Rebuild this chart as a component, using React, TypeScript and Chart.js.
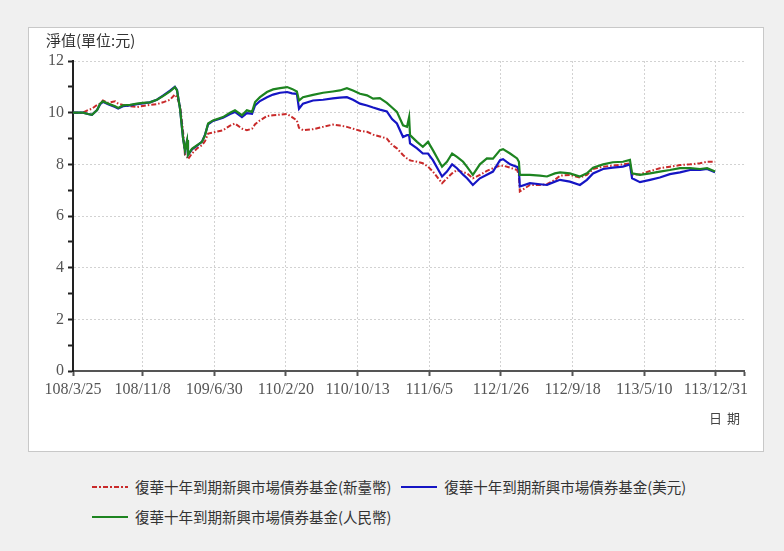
import React, { useEffect, useRef } from "react";
import { Chart, registerables } from "chart.js";

Chart.register(...registerables);

// ---- data ----
const tickLabels = [
  "108/3/25", "108/11/8", "109/6/30", "110/2/20", "110/10/13",
  "111/6/5", "112/1/26", "112/9/18", "113/5/10", "113/12/31",
];
const axisEndDay = 2200;

// sample days (days since 108/3/25)
const sampleDay = [
  0, 33, 49, 62, 79, 89, 98, 115, 138, 148, 164, 187, 210, 229, 252, 275, 295, 318, 334, 341,
  351, 361, 367, 374, 377, 390, 407, 423, 433, 443, 459, 492, 515, 531, 554, 570, 587, 597, 613, 636,
  656, 679, 702, 718, 734, 741, 754, 787, 820, 852, 875, 898, 918, 941, 964, 984, 1006, 1029, 1046, 1062,
  1082, 1095, 1102, 1105, 1128, 1147, 1164, 1180, 1210, 1226, 1243, 1259, 1279, 1292, 1311, 1334, 1357, 1377, 1400, 1410,
  1433, 1456, 1462, 1465, 1498, 1531, 1554, 1580, 1597, 1629, 1662, 1685, 1705, 1738, 1770, 1803, 1826, 1833, 1859, 1892,
  1924, 1957, 1990, 2023, 2056, 2079, 2105,
];

const navTWD = [
  10.0, 10.0, 10.1, 10.15, 10.3, 10.35, 10.47, 10.38, 10.44, 10.35, 10.3, 10.25, 10.22, 10.26, 10.3, 10.33, 10.4, 10.5, 10.7, 10.6,
  10.28, 9.26, 8.38, 8.3, 8.2, 8.42, 8.62, 8.74, 8.9, 9.19, 9.23, 9.32, 9.5, 9.58, 9.38, 9.32, 9.38, 9.55, 9.7, 9.87,
  9.9, 9.92, 9.95, 9.83, 9.7, 9.41, 9.32, 9.36, 9.45, 9.54, 9.5, 9.45, 9.38, 9.3, 9.26, 9.15, 9.08, 9.0, 8.75, 8.62,
  8.36, 8.23, 8.2, 8.15, 8.1, 8.04, 7.91, 7.72, 7.27, 7.46, 7.65, 7.78, 7.7, 7.65, 7.46, 7.59, 7.75, 7.85, 7.95, 7.95,
  7.87, 7.78, 7.59, 6.95, 7.2, 7.2, 7.23, 7.4, 7.56, 7.59, 7.49, 7.59, 7.82, 7.91, 7.95, 8.0, 8.04, 7.6, 7.62, 7.74,
  7.85, 7.91, 7.97, 8.0, 8.04, 8.1, 8.1,
];

const navUSD = [
  10.0, 10.0, 9.95, 9.92, 10.1, 10.33, 10.42, 10.33, 10.22, 10.16, 10.25, 10.28, 10.33, 10.36, 10.4, 10.5, 10.66, 10.85, 11.0, 10.88,
  10.15, 9.0, 8.55, 8.9, 8.36, 8.58, 8.72, 8.88, 9.15, 9.55, 9.68, 9.8, 9.95, 10.03, 9.83, 9.98, 9.96, 10.28, 10.45, 10.6,
  10.7, 10.77, 10.8, 10.75, 10.73, 10.15, 10.35, 10.47, 10.5, 10.55, 10.58, 10.6, 10.5, 10.35, 10.28, 10.2, 10.12, 10.05, 9.75, 9.58,
  9.06, 9.13, 9.13, 8.81, 8.62, 8.42, 8.42, 8.16, 7.53, 7.72, 8.0, 7.85, 7.6, 7.46, 7.2, 7.46, 7.6, 7.72, 8.16, 8.2,
  8.0, 7.9, 7.78, 7.14, 7.27, 7.23, 7.2, 7.33, 7.4, 7.33, 7.2, 7.4, 7.65, 7.82, 7.87, 7.91, 8.0, 7.46, 7.31, 7.4,
  7.49, 7.62, 7.69, 7.78, 7.78, 7.82, 7.69,
];

const navCNY = [
  10.0, 10.0, 9.95, 9.92, 10.1, 10.35, 10.44, 10.35, 10.25, 10.18, 10.28, 10.3, 10.35, 10.38, 10.4, 10.5, 10.64, 10.82, 10.99, 10.86,
  10.15, 9.0, 8.55, 8.94, 8.36, 8.6, 8.74, 8.87, 9.13, 9.58, 9.7, 9.83, 10.0, 10.09, 9.9, 10.09, 10.03, 10.41, 10.6, 10.8,
  10.9, 10.95, 10.99, 10.92, 10.82, 10.47, 10.6, 10.69, 10.77, 10.82, 10.86, 10.95, 10.86, 10.73, 10.67, 10.54, 10.56, 10.38, 10.2, 10.03,
  9.51, 9.45, 9.83, 9.13, 8.87, 8.68, 8.87, 8.55, 7.91, 8.1, 8.42, 8.29, 8.1, 7.9, 7.59, 8.0, 8.23, 8.22, 8.55, 8.59,
  8.42, 8.23, 8.1, 7.59, 7.59, 7.56, 7.53, 7.65, 7.69, 7.65, 7.53, 7.65, 7.87, 8.0, 8.08, 8.1, 8.17, 7.65, 7.59, 7.65,
  7.72, 7.78, 7.85, 7.85, 7.82, 7.85, 7.72,
];

const seriesNames = [
  "復華十年到期新興市場債券基金(新臺幣)",
  "復華十年到期新興市場債券基金(美元)",
  "復華十年到期新興市場債券基金(人民幣)",
];
const yTitle = "淨值(單位:元)";
const xTitle = "日期";

// ---- styles ----
const RED = "#c92a2a";
const BLUE = "#1515c4";
const GREEN = "#1d8420";
const CJK = '"Noto Sans CJK TC", "Noto Sans CJK SC", sans-serif';
const SERIF = '"Liberation Serif", "DejaVu Serif", serif';

function rocToMs(s: string) {
  const [y, m, d] = s.split("/").map(Number);
  return Date.UTC(y + 1911, m - 1, d);
}
const startMs = rocToMs(tickLabels[0]);
const tickDay = tickLabels.map((s) => Math.round((rocToMs(s) - startMs) / 86400000));

const pts = (vals: number[]) => vals.map((v, i) => ({ x: sampleDay[i], y: v }));

const axisTexts = {
  id: "axisTexts",
  afterDraw(chart: any) {
    const { ctx, chartArea } = chart;
    ctx.save();
    ctx.fillStyle = "#333";
    ctx.textBaseline = "middle";
    ctx.textAlign = "left";
    ctx.font = `15px ${CJK}`;
    ctx.fillText(yTitle, chartArea.left - 27, chartArea.top - 21);
    ctx.font = `13px ${CJK}`;
    ctx.fillStyle = "#444";
    try {
      (ctx as any).letterSpacing = "5px";
    } catch (e) {}
    ctx.textAlign = "right";
    ctx.fillText(xTitle, chartArea.right + 1, chartArea.bottom + 47);
    ctx.restore();
  },
};

export default function App() {
  const ref = useRef<HTMLCanvasElement>(null);

  useEffect(() => {
    if (!ref.current) return;
    const chart = new Chart(ref.current, {
      type: "line",
      data: {
        datasets: [
          {
            label: seriesNames[0],
            data: pts(navTWD),
            borderColor: RED,
            borderWidth: 2,
            borderDash: [5, 2, 1.5, 2],
            pointRadius: 0,
            tension: 0,
            order: 3,
          },
          {
            label: seriesNames[1],
            data: pts(navUSD),
            borderColor: BLUE,
            borderWidth: 2.2,
            pointRadius: 0,
            tension: 0,
            order: 2,
          },
          {
            label: seriesNames[2],
            data: pts(navCNY),
            borderColor: GREEN,
            borderWidth: 2.2,
            pointRadius: 0,
            tension: 0,
            order: 1,
          },
        ],
      },
      options: {
        animation: false,
        responsive: false,
        maintainAspectRatio: false,
        layout: { padding: { top: 33, right: 18, left: 0, bottom: 0 } },
        plugins: {
          legend: { display: false },
          tooltip: { enabled: false },
        },
        scales: {
          x: {
            type: "linear",
            min: 0,
            max: axisEndDay,
            afterBuildTicks: (s: any) => {
              s.ticks = [...tickDay.map((v) => ({ value: v })), { value: axisEndDay }];
            },
            afterFit: (s: any) => {
              s.height = 79;
            },
            ticks: {
              autoSkip: false,
              maxRotation: 0,
              padding: 4,
              color: "#555",
              font: { family: SERIF, size: 16 },
              callback: (v: any) => {
                const i = tickDay.indexOf(Number(v));
                return i >= 0 ? tickLabels[i] : "";
              },
            },
            grid: {
              color: (c: any) =>
                c.tick && c.tick.value === axisEndDay ? "rgba(0,0,0,0)" : "#d2d2d2",
              lineWidth: 1,
              tickLength: 5,
              tickColor: "#555",
              tickWidth: 2,
            },
            border: { color: "#555", width: 2, dash: [2, 2] },
          },
          y: {
            min: 0,
            max: 12,
            afterFit: (s: any) => {
              s.width = 44;
            },
            ticks: {
              stepSize: 1,
              autoSkip: false,
              padding: 4,
              color: "#555",
              font: { family: SERIF, size: 16 },
              callback: (v: any) => (Number(v) % 2 === 0 ? String(v) : ""),
            },
            grid: {
              color: (c: any) =>
                c.tick && c.tick.value % 2 === 0 ? "#d2d2d2" : "rgba(0,0,0,0)",
              lineWidth: 1,
              tickLength: 5,
              tickColor: "#222",
              tickWidth: 2,
            },
            border: { color: "#222", width: 2, dash: [2, 2] },
          },
        },
      },
      plugins: [axisTexts],
    });
    return () => chart.destroy();
  }, []);

  const sample = (bg: string, h = 2.5) => (
    <span
      style={{
        display: "inline-block",
        width: 36,
        height: h,
        background: bg,
        marginRight: 7,
        verticalAlign: "middle",
      }}
    />
  );
  const redDash = `repeating-linear-gradient(to right, ${RED} 0 5px, transparent 5px 7px, ${RED} 7px 9px, transparent 9px 11px)`;
  const items: [string, string, number][] = [
    [redDash, seriesNames[0], 2],
    [BLUE, seriesNames[1], 2.5],
    [GREEN, seriesNames[2], 2.5],
  ];

  return (
    <div
      style={{
        position: "fixed",
        left: 0,
        top: 0,
        width: 784,
        height: 551,
        background: "#f0f0f0",
        overflow: "hidden",
      }}
    >
      <div
        style={{
          position: "absolute",
          left: 28,
          top: 27,
          width: 736,
          height: 425,
          boxSizing: "border-box",
          background: "#fff",
          border: "1px solid #c8c8c8",
        }}
      />
      <canvas
        ref={ref}
        width={733}
        height={422}
        style={{ position: "absolute", left: 29, top: 28, width: 733, height: 422 }}
      />
      <div
        style={{
          position: "absolute",
          left: 92,
          top: 472,
          width: 620,
          display: "flex",
          flexWrap: "wrap",
          columnGap: 10,
          fontFamily: CJK,
          fontSize: 14.5,
          color: "#333",
          lineHeight: "30px",
        }}
      >
        {items.map(([bg, name, h]) => (
          <span key={name} style={{ whiteSpace: "nowrap", display: "inline-flex", alignItems: "center" }}>
            {sample(bg, h)}
            <span>{name}</span>
          </span>
        ))}
      </div>
    </div>
  );
}
